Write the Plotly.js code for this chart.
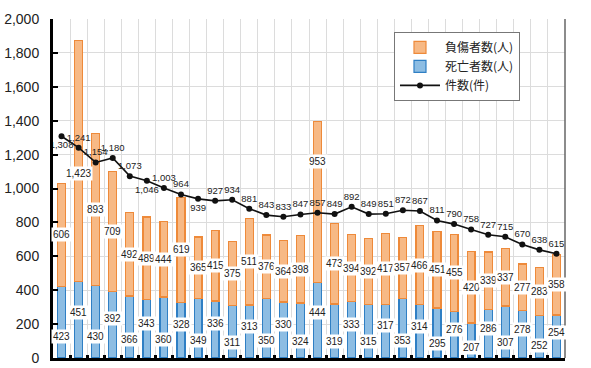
<!DOCTYPE html>
<html>
<head>
<meta charset="utf-8">
<script src="https://cdn.plot.ly/plotly-3.0.1.min.js"></script>
<style>html,body{margin:0;padding:0;background:#fff;}#chart{width:591px;height:368px;}</style>
</head>
<body>
<div id="chart"></div>
<script>
const categories = ['c01','c02','c03','c04','c05','c06','c07','c08','c09','c10','c11','c12','c13','c14','c15','c16','c17','c18','c19','c20','c21','c22','c23','c24','c25','c26','c27','c28','c29','c30'];
const deaths = [423,451,430,392,366,343,360,328,349,336,311,313,350,330,324,444,319,333,315,317,353,314,295,276,207,286,307,278,252,254];
const injuries = [606,1423,893,709,492,489,444,619,365,415,375,511,376,364,398,953,473,394,392,417,357,466,451,455,420,339,337,277,283,358];
const incidents = [1308,1241,1154,1180,1073,1046,1003,964,939,927,934,881,843,833,847,857,849,892,849,851,872,867,811,790,758,727,715,670,638,615];
const yTicks = [0,200,400,600,800,1000,1200,1400,1600,1800,2000];

const fmt = v => v.toLocaleString('en-US');
const numFont = {family: 'Liberation Sans, Arial, sans-serif', size: 10, color: '#222'};
const lineFont = {family: 'Liberation Sans, Arial, sans-serif', size: 9.5, color: '#222'};

const lineLabelPos = incidents.map((v, i) => (i === 0 || i === 5 || i === 8) ? 'bottom center' : 'top center');

const traces = [
  {
    type: 'bar', name: '死亡者数(人)', x: categories, y: deaths,
    marker: {color: '#8DBDE3', line: {color: '#2F7FC4', width: 1.2}},
    legendrank: 2, hoverinfo: 'y'
  },
  {
    type: 'bar', name: '負傷者数(人)', x: categories, y: injuries,
    marker: {color: '#F7B985', line: {color: '#EE8A3A', width: 1.2}},
    legendrank: 1, hoverinfo: 'y'
  },
  {
    type: 'scatter', mode: 'lines+markers+text', name: '件数(件)', x: categories, y: incidents,
    line: {color: '#111', width: 1.6},
    marker: {color: '#111', size: 6},
    text: incidents.map(fmt), textposition: lineLabelPos,
    textfont: lineFont, cliponaxis: false, legendrank: 3
  }
];

const annotations = [];
categories.forEach((c, i) => {
  annotations.push({
    x: c, y: deaths[i] * (i % 2 === 0 ? 0.3 : 0.6), text: fmt(deaths[i]),
    showarrow: false, bgcolor: '#fff', borderpad: 1, font: numFont
  });
  // middle of the orange segment, moved away from the line label when they would collide
  let yi = deaths[i] + injuries[i] / 2;
  if (Math.abs(yi - incidents[i]) < 150) {
    yi = yi > incidents[i] ? incidents[i] + 300 : incidents[i] - 155;
  }
  annotations.push({
    x: c, y: yi, text: fmt(injuries[i]),
    showarrow: false, bgcolor: '#fff', borderpad: 1, font: numFont
  });
});

const layout = {
  width: 591, height: 368,
  margin: {l: 53, r: 26, t: 19, b: 10},
  paper_bgcolor: '#fff', plot_bgcolor: '#fff',
  barmode: 'stack', bargap: 0.54,
  showlegend: true,
  legend: {
    x: 0.666, y: 0.962, xanchor: 'left', yanchor: 'top', traceorder: 'normal',
    bgcolor: '#fff', bordercolor: '#777', borderwidth: 1,
    font: {family: 'Noto Sans CJK JP, sans-serif', size: 12, color: '#222'},
    itemwidth: 40
  },
  xaxis: {
    type: 'category', range: [-0.5, categories.length - 0.5],
    tickson: 'boundaries', showgrid: true, gridcolor: '#dcdcdc', gridwidth: 1,
    showticklabels: false, ticks: 'inside', ticklen: 3, tickwidth: 3, tickcolor: '#000',
    showline: true, linecolor: '#000', linewidth: 3, zeroline: false, fixedrange: true
  },
  yaxis: {
    range: [0, 2000], tickvals: yTicks, ticktext: yTicks.map(fmt),
    showgrid: true, gridcolor: '#dcdcdc', gridwidth: 1,
    showline: true, linecolor: '#000', linewidth: 3,
    ticks: 'inside', ticklen: 5, tickwidth: 2, tickcolor: '#000', ticklabelstandoff: 8,
    tickfont: {family: 'Liberation Sans, Arial, sans-serif', size: 14, color: '#222'},
    zeroline: false, fixedrange: true
  },
  shapes: [{type: 'line', xref: 'paper', yref: 'paper', x0: 1, x1: 1, y0: 0, y1: 1, line: {color: '#666', width: 1.5}}],
  annotations: annotations
};

Plotly.newPlot('chart', traces, layout, {displayModeBar: false, staticPlot: true});
</script>
</body>
</html>
